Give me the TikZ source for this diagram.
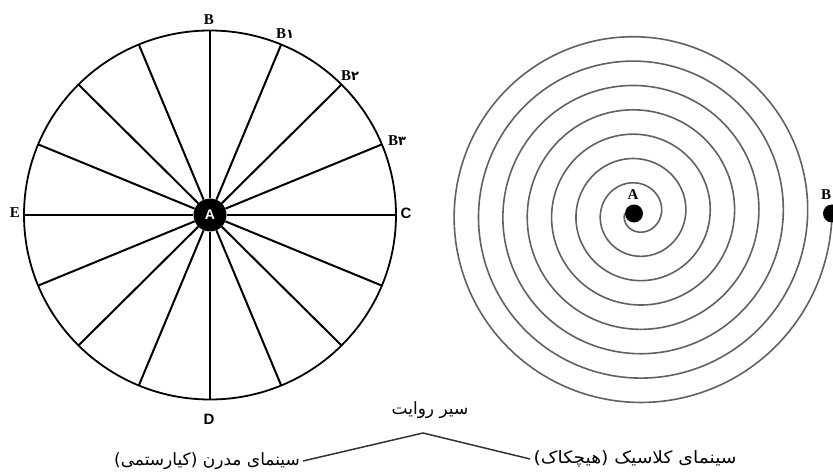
\documentclass[tikz,border=0pt]{standalone}
\usepackage{fontspec}
\setmainfont{Liberation Serif}
\newfontfamily\arabicfont[Script=Arabic]{DejaVu Sans}
\newfontfamily\sansfnt{Liberation Sans}
\TeXXeTstate=1
\begin{document}
\begin{tikzpicture}[x=1pt,y=-1pt,
  lab/.style={font=\fontsize{15}{17}\selectfont\bfseries, inner sep=1pt},
  spoke/.style={line width=2pt, black},
  rim/.style={line width=1.8pt, black},
  spiralline/.style={line width=1.6pt, black!62},
  dot/.style={circle, fill=black, inner sep=0pt, minimum size=18pt},
  fa/.style={font=\arabicfont\fontsize{17}{19}\selectfont, inner sep=3pt},
  link/.style={line width=1.5pt, black!80}]
\useasboundingbox (0,0) rectangle (833,473);

% ---------- left figure ----------
\coordinate (O) at (210,215);
\draw[rim] (O) ellipse [x radius=186pt, y radius=184.5pt];
\foreach \k in {0,...,15}
  \coordinate (s\k) at ({210+186*cos(22.5*\k)},{215-184.5*sin(22.5*\k)});
\node[circle, fill=black, inner sep=0pt, minimum size=33pt,
      text=white, font=\sansfnt\fontsize{14}{14}\selectfont\bfseries] (A) at (O) {A};
\foreach \k in {0,...,15}
  \draw[spoke] (A) -- (s\k);

\node[lab] (lB)  at (209,20)  {B};
\node[lab] (lB1) at (285,34)  {B{\arabicfont\fontsize{13}{13}\selectfont ۱}};
\node[lab] (lB2) at (350,76)  {B{\arabicfont\fontsize{13}{13}\selectfont ۲}};
\node[lab] (lB3) at (397,141) {B{\arabicfont\fontsize{13}{13}\selectfont ۳}};
\node[lab] (lE)  at (15,213)  {E};
\node[lab] (lC)  at (406,213) {\sansfnt C};
\node[lab] (lD)  at (209,419) {\sansfnt D};

% ---------- right figure (spiral) ----------
\draw[spiralline] plot[domain=3.14159:50.2655, samples=700, smooth]
  ({637+3.88*\x*cos(\x r)},{213.5-3.88*\x*sin(\x r)});
\node[dot] (A2) at (634,213.5) {};
\node[dot] (B2) at (832,213.5) {};
\node[lab] (lA2) at (633,195) {A};
\node[lab] (lB2r) at (826,195) {B};

% ---------- captions ----------
\node[fa] (mid) at (430,410) {\beginR سیر روایت\endR};
\node[fa, anchor=east] (modern) at (303,461) {\beginR سینمای مدرن (کیارستمی)\endR};
\node[fa, anchor=west, xscale=1.1] (classic) at (530,459) {\beginR سینمای کلاسیک (هیچکاک)\endR};
\coordinate (pk) at (423,433);
\draw[link] (modern.east) -- (pk) -- (classic.west);
\end{tikzpicture}
\end{document}
